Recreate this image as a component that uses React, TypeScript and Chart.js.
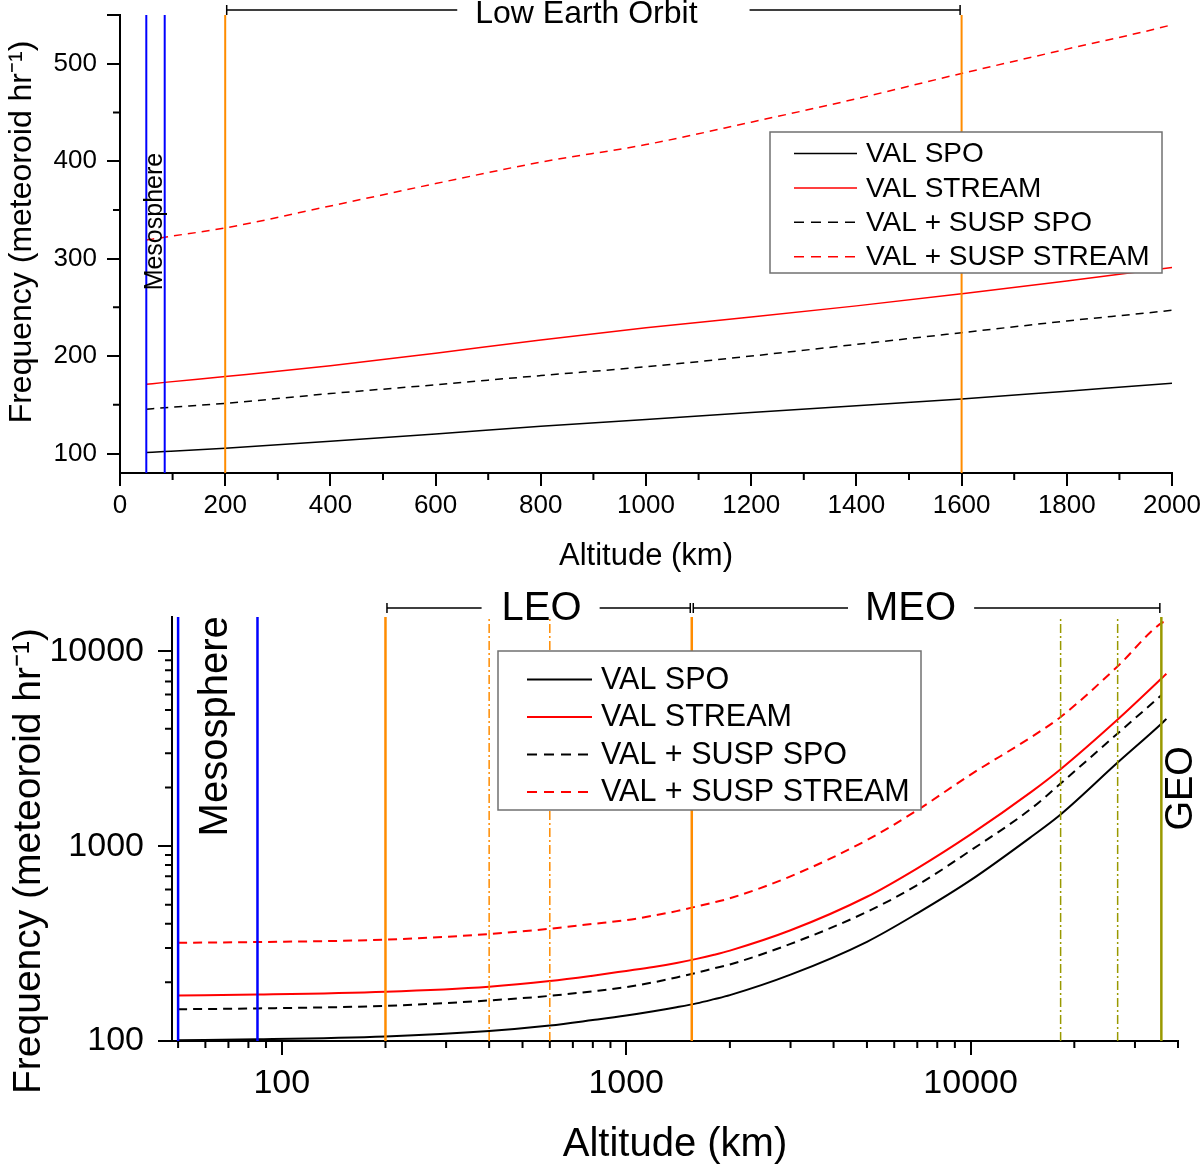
import { useEffect, useRef } from 'react';
import { Chart, registerables } from 'chart.js';

Chart.register(...registerables);

const FONT = '"Liberation Sans", Arial, sans-serif';
Chart.defaults.font.family = FONT;
Chart.defaults.color = '#000';

// altitude samples (km) and meteoroid frequency
const altitudeKm = [50, 85, 200, 400, 600, 800, 1000, 1200, 1400, 1600, 1800, 2000, 3000, 5000, 7000, 10000, 15000, 18250, 26720, 35786, 37000];
const valSpo = [101, 102, 105.5, 112.5, 120, 128, 135, 142, 149, 156, 164, 172, 219, 323, 452, 669, 1117, 1454, 2685, 4250, 4500];
const valStream = [171, 173, 179, 190, 203, 216.5, 229, 240, 251.5, 264, 277, 291, 370, 550, 770, 1150, 1900, 2483, 4465, 7245, 7670];
const valSuspSpo = [145.5, 147, 151.5, 161.5, 170.5, 180, 189, 200, 212, 224, 236, 247, 315, 460, 631, 950, 1560, 2097, 3786, 5945, null];
const valSuspStream = [319, 322, 331.5, 354, 377, 399, 417, 440, 464, 490, 515, 540, 700, 1074, 1530, 2330, 3630, 4600, 8375, 13960, 14300];

const seriesLabels = ['VAL SPO', 'VAL STREAM', 'VAL + SUSP SPO', 'VAL + SUSP STREAM'];
const seriesValues = [valSpo, valStream, valSuspSpo, valSuspStream];
const seriesColors = ['#000000', '#ff0000', '#000000', '#ff0000'];
const seriesDashed = [false, false, true, true];

// region boundaries (km)
const mesosphereKm = [50, 85];
const leoTopKm = [200, 1600];
const leoBottomKm = [200, 1550];
const leoInnerKm = [400, 600];
const meoInnerKm = [18250, 26720];
const geoKm = 35786;

// ticks
const topXTicks = [0, 200, 400, 600, 800, 1000, 1200, 1400, 1600, 1800, 2000];
const topXMinor = [100, 300, 500, 700, 900, 1100, 1300, 1500, 1700, 1900];
const topYTicks = [100, 200, 300, 400, 500, 550];
const topYLabels = [100, 200, 300, 400, 500];
const topYMinor = [150, 250, 350, 450];
const logTicks = [100, 1000, 10000];
const bottomXMinor = [50, 60, 70, 80, 90, 200, 300, 400, 500, 600, 700, 800, 900, 2000, 3000, 4000, 5000, 6000, 7000, 8000, 9000, 20000, 30000, 40000];
const bottomYMinor = [200, 300, 400, 500, 600, 700, 800, 900, 2000, 3000, 4000, 5000, 6000, 7000, 8000, 9000];

const Y_TITLE = 'Frequency (meteoroid hr⁻¹)';
const ORANGE = '#ff8c00';
const OLIVE = '#999900';
const BLUE = '#0000ff';

function overlayPlugin(spec: any) {
  return {
    id: 'overlay',
    afterDatasetsDraw(chart: any) {
      const { ctx, chartArea: a, scales } = chart;
      ctx.save();
      for (const l of spec.refLines) {
        const px = scales.x.getPixelForValue(l.value);
        ctx.strokeStyle = l.color;
        ctx.lineWidth = l.width;
        ctx.setLineDash(l.dash);
        ctx.beginPath();
        ctx.moveTo(px, a.bottom);
        ctx.lineTo(px, a.top);
        ctx.stroke();
      }
      ctx.restore();
    },
    afterDraw(chart: any) {
      const { ctx, chartArea: a, scales } = chart;
      const sx = scales.x;
      const sy = scales.y;
      ctx.save();
      // minor ticks
      ctx.strokeStyle = '#000';
      ctx.lineWidth = 2;
      ctx.setLineDash([]);
      ctx.beginPath();
      for (const v of spec.minorX) {
        const px = sx.getPixelForValue(v);
        ctx.moveTo(px, a.bottom);
        ctx.lineTo(px, a.bottom + spec.minorLen);
      }
      for (const v of spec.minorY) {
        const py = sy.getPixelForValue(v);
        ctx.moveTo(a.left, py);
        ctx.lineTo(a.left - spec.minorLen, py);
      }
      ctx.stroke();

      // y axis title
      ctx.fillStyle = '#000';
      ctx.textAlign = 'center';
      ctx.textBaseline = 'middle';
      ctx.save();
      ctx.translate(spec.yTitle.x, spec.yTitle.y);
      ctx.rotate(-Math.PI / 2);
      ctx.font = `${spec.yTitle.size}px ${FONT}`;
      ctx.fillText(Y_TITLE, 0, 0);
      ctx.restore();

      // brackets above the plot
      const by = a.top - spec.bracketOffset;
      ctx.font = `${spec.bracketFont}px ${FONT}`;
      ctx.lineWidth = 1.5;
      for (const b of spec.brackets) {
        const x0 = sx.getPixelForValue(b.from) + 1.5;
        const x1 = sx.getPixelForValue(b.to) - 1.5;
        const cx = (x0 + x1) / 2 + b.shift;
        const w = ctx.measureText(b.label).width;
        ctx.beginPath();
        ctx.moveTo(x0, by - 5);
        ctx.lineTo(x0, by + 5);
        ctx.moveTo(x0, by);
        ctx.lineTo(cx - w / 2 - b.gapL, by);
        ctx.moveTo(cx + w / 2 + b.gapR, by);
        ctx.lineTo(x1, by);
        ctx.moveTo(x1, by - 5);
        ctx.lineTo(x1, by + 5);
        ctx.stroke();
        ctx.fillText(b.label, cx, by + spec.bracketTextDy);
      }

      // rotated labels
      for (const t of spec.texts) {
        ctx.save();
        ctx.translate(sx.getPixelForValue(t.x), sy.getPixelForValue(t.y));
        ctx.rotate(-Math.PI / 2);
        ctx.font = `${t.size}px ${FONT}`;
        ctx.fillText(t.text, 0, 0);
        ctx.restore();
      }

      // legend box
      const L = spec.legend;
      ctx.fillStyle = '#fff';
      ctx.fillRect(L.left, L.top, L.width, L.height);
      ctx.strokeStyle = '#707070';
      ctx.lineWidth = 1.5;
      ctx.strokeRect(L.left, L.top, L.width, L.height);
      ctx.font = `${L.size}px ${FONT}`;
      ctx.textAlign = 'left';
      chart.data.datasets.forEach((ds: any, i: number) => {
        const y = L.firstRow + i * L.rowGap;
        ctx.strokeStyle = ds.borderColor;
        ctx.lineWidth = L.lineWidth;
        ctx.setLineDash(seriesDashed[i] ? L.dash : []);
        ctx.beginPath();
        ctx.moveTo(L.lineX0, y);
        ctx.lineTo(L.lineX1, y);
        ctx.stroke();
        ctx.setLineDash([]);
        ctx.fillStyle = '#000';
        ctx.fillText(ds.label, L.textX, y + 1);
      });
      ctx.restore();
    },
  };
}

function datasets(width: number, dash: number[]) {
  return seriesLabels.map((label, i) => ({
    label,
    data: altitudeKm.map((x, j) => ({ x, y: seriesValues[i][j] })),
    borderColor: seriesColors[i],
    borderWidth: width,
    borderDash: seriesDashed[i] ? dash : [],
    pointRadius: 0,
    fill: false,
    cubicInterpolationMode: 'monotone',
  }));
}

function fixSize(dim: 'width' | 'height', size: number) {
  return (s: any) => {
    s[dim] = size;
    s.paddingLeft = 0;
    s.paddingRight = 0;
    s.paddingTop = 0;
    s.paddingBottom = 0;
  };
}

function axisBase(tickSize: number, tickPad: number, tickLen: number) {
  return {
    border: { display: true, color: '#000', width: 2 },
    grid: { display: true, drawOnChartArea: false, drawTicks: true, tickLength: tickLen, color: '#000', lineWidth: 2 },
    ticks: { autoSkip: false, maxRotation: 0, color: '#000', padding: tickPad, font: { size: tickSize } },
  };
}

function topConfig(): any {
  const xBase = axisBase(26, 4, 13);
  const yBase = axisBase(26, 10, 13);
  return {
    type: 'line',
    data: { datasets: datasets(1.5, [8, 6]) },
    options: {
      animation: false,
      responsive: true,
      maintainAspectRatio: false,
      layout: { autoPadding: false, padding: { left: 0, right: 28, top: 15, bottom: 0 } },
      plugins: { legend: { display: false }, tooltip: { enabled: false } },
      scales: {
        x: {
          ...xBase,
          type: 'linear',
          min: 0,
          max: 2000,
          ticks: { ...xBase.ticks, callback: (v: number) => String(v) },
          afterBuildTicks: (s: any) => { s.ticks = topXTicks.map((value) => ({ value })); },
          afterFit: fixSize('height', 107),
          title: { display: true, text: 'Altitude (km)', color: '#000', font: { size: 31, lineHeight: 1.1 }, padding: { top: 0, bottom: 6 } },
        },
        y: {
          ...yBase,
          type: 'linear',
          min: 80,
          max: 550,
          ticks: { ...yBase.ticks, callback: (v: number) => (topYLabels.includes(v) ? String(v) : '') },
          afterBuildTicks: (s: any) => { s.ticks = topYTicks.map((value) => ({ value })); },
          afterFit: fixSize('width', 120),
        },
      },
    },
    plugins: [
      overlayPlugin({
        refLines: [
          ...mesosphereKm.map((value) => ({ value, color: BLUE, width: 2, dash: [] })),
          ...leoTopKm.map((value) => ({ value, color: ORANGE, width: 2, dash: [] })),
        ],
        minorX: topXMinor,
        minorY: topYMinor,
        minorLen: 7,
        yTitle: { x: 22, y: 232, size: 32 },
        bracketOffset: 5,
        bracketFont: 32,
        bracketTextDy: 4,
        brackets: [{ from: leoTopKm[0], to: leoTopKm[1], label: 'Low Earth Orbit', shift: -7, gapL: 18, gapR: 52 }],
        texts: [{ text: 'Mesosphere', x: 66.5, y: 338, size: 25 }],
        legend: { left: 770, top: 132, width: 392, height: 141, firstRow: 153.5, rowGap: 34.4, lineX0: 794, lineX1: 857, textX: 866, size: 28, lineWidth: 1.5, dash: [10, 7] },
      }),
    ],
  };
}

function bottomConfig(): any {
  const xBase = axisBase(34, 8, 14);
  const yBase = axisBase(34, 14, 14);
  return {
    type: 'line',
    data: { datasets: datasets(2, [9, 6]) },
    options: {
      animation: false,
      responsive: true,
      maintainAspectRatio: false,
      layout: { autoPadding: false, padding: { left: 0, right: 22, top: 37, bottom: 0 } },
      plugins: { legend: { display: false }, tooltip: { enabled: false } },
      scales: {
        x: {
          ...xBase,
          type: 'logarithmic',
          min: 48,
          max: 40000,
          ticks: { ...xBase.ticks, callback: (v: number) => String(v) },
          afterBuildTicks: (s: any) => { s.ticks = logTicks.map((value) => ({ value })); },
          afterFit: fixSize('height', 126),
          title: { display: true, text: 'Altitude (km)', color: '#000', font: { size: 40, lineHeight: 1.1 }, padding: { top: 0, bottom: 0 } },
        },
        y: {
          ...yBase,
          type: 'logarithmic',
          min: 100,
          max: 15000,
          ticks: { ...yBase.ticks, callback: (v: number) => String(v) },
          afterBuildTicks: (s: any) => { s.ticks = logTicks.map((value) => ({ value })); },
          afterFit: fixSize('width', 172),
        },
      },
    },
    plugins: [
      overlayPlugin({
        refLines: [
          ...mesosphereKm.map((value) => ({ value, color: BLUE, width: 2.5, dash: [] })),
          ...leoBottomKm.map((value) => ({ value, color: ORANGE, width: 2.5, dash: [] })),
          ...leoInnerKm.map((value) => ({ value, color: ORANGE, width: 1.5, dash: [9, 3, 2, 3] })),
          ...meoInnerKm.map((value) => ({ value, color: OLIVE, width: 1.5, dash: [9, 3, 2, 3] })),
          { value: geoKm, color: OLIVE, width: 2.5, dash: [] },
        ],
        minorX: bottomXMinor,
        minorY: bottomYMinor,
        minorLen: 7,
        yTitle: { x: 29, y: 281, size: 39 },
        bracketOffset: 9,
        bracketFont: 40,
        bracketTextDy: 1,
        brackets: [
          { from: leoBottomKm[0], to: leoBottomKm[1], label: 'LEO', shift: 3, gapL: 20, gapR: 18 },
          { from: leoBottomKm[1], to: geoKm, label: 'MEO', shift: -16, gapL: 17, gapR: 18 },
        ],
        texts: [
          { text: 'Mesosphere', x: 64.5, y: 4120, size: 40 },
          { text: 'GEO', x: 41000, y: 1980, size: 38 },
        ],
        legend: { left: 498, top: 71, width: 423, height: 159, firstRow: 99.5, rowGap: 37.5, lineX0: 527, lineX1: 592, textX: 601, size: 30.5, lineWidth: 2, dash: [10, 7] },
      }),
    ],
  };
}

function ChartPanel({ top, height, make }: { top: number; height: number; make: () => any }) {
  const canvasRef = useRef<HTMLCanvasElement>(null);

  useEffect(() => {
    if (!canvasRef.current) return;
    const chart = new Chart(canvasRef.current, make());
    return () => {
      chart.destroy();
    };
  }, [make]);

  return (
    <div style={{ position: 'absolute', left: 0, top, width: 1200, height }}>
      <canvas ref={canvasRef} />
    </div>
  );
}

export default function App() {
  return (
    <div style={{ position: 'absolute', left: 0, top: 0, width: 1200, height: 1167, background: '#fff' }}>
      <ChartPanel top={0} height={580} make={topConfig} />
      <ChartPanel top={580} height={587} make={bottomConfig} />
    </div>
  );
}
